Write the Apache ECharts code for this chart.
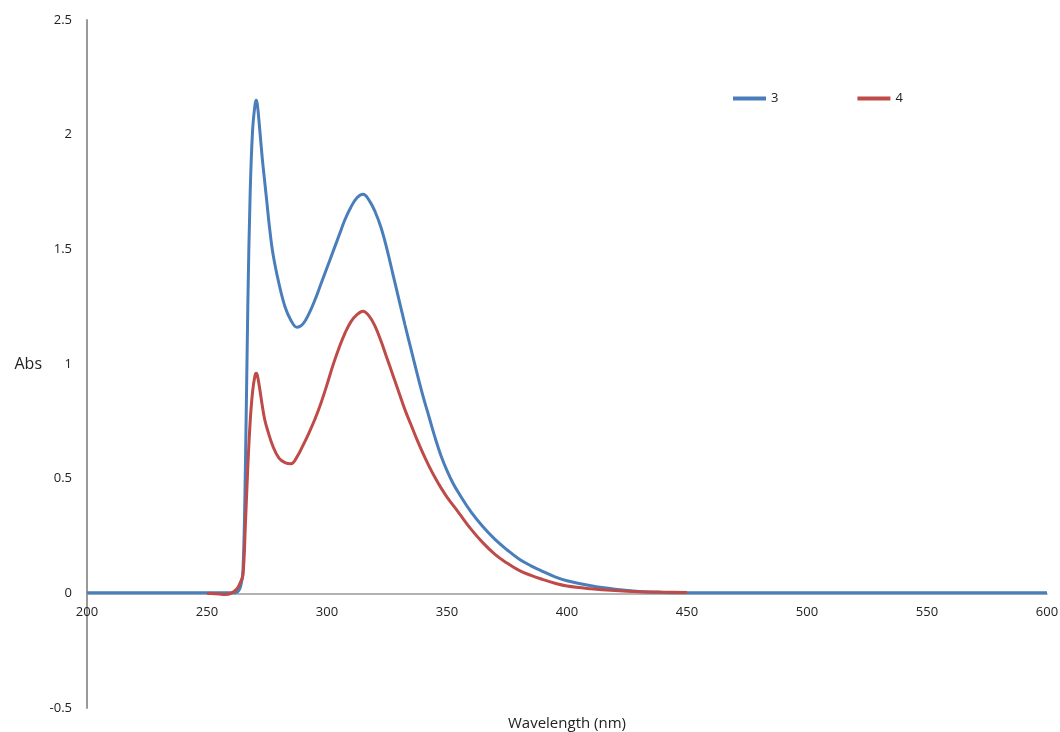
<!DOCTYPE html>
<html>
<head>
<meta charset="utf-8">
<script src="https://cdn.jsdelivr.net/npm/echarts@6/dist/echarts.min.js"></script>
<style>
  html, body { margin: 0; padding: 0; background: #fff; }
  #main { width: 1060px; height: 732px; }
</style>
</head>
<body>
<div id="main"></div>
<script>
// spectrum of compound 3
var wl3 = [200, 250, 260, 262.5, 264, 265, 266, 267, 268, 269, 270, 270.5, 271, 272, 273, 274, 275, 276, 277.5, 280,
  282.5, 285, 287.5, 290, 292.5, 295, 297.5, 300, 302.5, 305, 307.5, 310, 312.5, 315, 317.5, 320, 322.5, 325, 327.5, 330,
  332.5, 335, 337.5, 340, 342.5, 345, 347.5, 350, 352.5, 355, 360, 365, 370, 375, 380, 385, 390, 395, 400, 410, 420,
  430, 440, 450, 500, 600];
var abs3 = [0.003, 0.003, 0.003, 0.005, 0.03, 0.10, 0.55, 1.25, 1.75, 2.02, 2.13, 2.15, 2.13, 2.02, 1.90, 1.80, 1.70, 1.60, 1.48, 1.35,
  1.25, 1.19, 1.16, 1.175, 1.22, 1.28, 1.35, 1.42, 1.49, 1.56, 1.63, 1.685, 1.725, 1.74, 1.715, 1.665, 1.595, 1.50, 1.39, 1.28,
  1.17, 1.065, 0.96, 0.86, 0.77, 0.68, 0.60, 0.535, 0.48, 0.435, 0.355, 0.29, 0.235, 0.19, 0.15, 0.12, 0.095, 0.072, 0.055, 0.033, 0.018,
  0.008, 0.004, 0.003, 0.002, 0.002];

// spectrum of compound 4
var wl4 = [250, 255, 257.5, 260, 262.5, 264, 265, 266, 267, 268, 269, 270, 270.5, 271, 272, 273, 274, 275, 277.5, 280,
  282.5, 285, 287.5, 290, 292.5, 295, 297.5, 300, 302.5, 305, 307.5, 310, 312.5, 315, 317.5, 320, 322.5, 325, 327.5, 330,
  332.5, 335, 337.5, 340, 342.5, 345, 347.5, 350, 355, 360, 365, 370, 375, 380, 385, 390, 395, 400, 410, 420,
  430, 440, 450];
var abs4 = [0.0, -0.003, -0.005, 0.0, 0.02, 0.05, 0.08, 0.30, 0.55, 0.75, 0.88, 0.95, 0.96, 0.95, 0.89, 0.82, 0.76, 0.72, 0.64, 0.59,
  0.57, 0.565, 0.595, 0.645, 0.70, 0.76, 0.83, 0.91, 0.995, 1.07, 1.135, 1.185, 1.215, 1.23, 1.21, 1.165, 1.10, 1.025, 0.95, 0.875,
  0.80, 0.735, 0.67, 0.61, 0.555, 0.505, 0.46, 0.42, 0.35, 0.28, 0.22, 0.17, 0.132, 0.10, 0.078, 0.06, 0.044, 0.032, 0.02, 0.012,
  0.007, 0.005, 0.004];

function pairs(xs, ys) {
  var out = [];
  for (var i = 0; i < xs.length; i++) out.push([xs[i], ys[i]]);
  return out;
}

var chart = echarts.init(document.getElementById('main'));
var font = 'Open Sans';

var option = {
  animation: false,
  backgroundColor: '#fff',
  grid: { left: 87, right: 13, top: 20, bottom: 24, containLabel: false, outerBoundsMode: 'none' },
  legend: {
    left: 728,
    top: 87,
    itemWidth: 33,
    itemHeight: 4,
    itemGap: 79,
    icon: 'rect',
    textStyle: { fontFamily: font, fontSize: 13, color: '#222' },
    data: ['3', '4']
  },
  xAxis: {
    type: 'value',
    min: 200,
    max: 600,
    interval: 50,
    name: 'Wavelength (nm)',
    nameLocation: 'middle',
    nameGap: 8,
    nameTextStyle: { fontFamily: font, fontSize: 15, color: '#222' },
    axisLine: { onZero: true, lineStyle: { color: '#999', width: 1.5 } },
    axisTick: { show: false },
    splitLine: { show: false },
    // labels sit just under the zero line, as in the original
    axisLabel: { fontFamily: font, fontSize: 13, color: '#222', margin: -102 }
  },
  yAxis: {
    type: 'value',
    min: -0.5,
    max: 2.5,
    interval: 0.5,
    name: 'Abs',
    nameLocation: 'middle',
    nameRotate: 0,
    nameGap: 45,
    nameTextStyle: { fontFamily: font, fontSize: 16, color: '#222' },
    axisLine: { show: true, lineStyle: { color: '#999', width: 2 } },
    axisTick: { show: false },
    splitLine: { show: false },
    axisLabel: { fontFamily: font, fontSize: 13, color: '#222', margin: 15 }
  },
  series: [{
    name: '3',
    type: 'line',
    data: pairs(wl3, abs3),
    smooth: 0.4,
    showSymbol: false,
    color: '#4a7ebb',
    lineStyle: { width: 3, color: '#4a7ebb' }
  }, {
    name: '4',
    type: 'line',
    data: pairs(wl4, abs4),
    smooth: 0.4,
    showSymbol: false,
    color: '#be4b48',
    lineStyle: { width: 3, color: '#be4b48' }
  }]
};
chart.setOption(option);
</script>
</body>
</html>
